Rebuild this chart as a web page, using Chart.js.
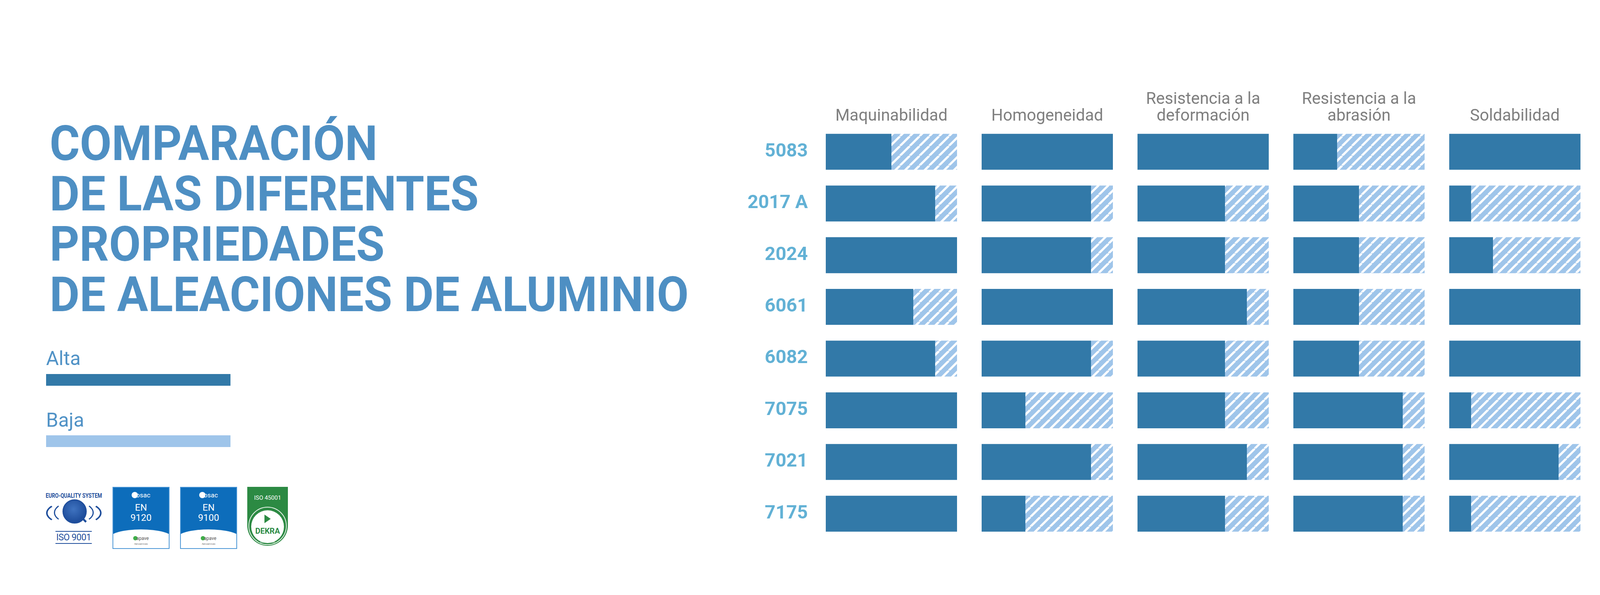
<!DOCTYPE html>
<html lang="es">
<head>
<meta charset="utf-8">
<title>Comparación de las diferentes propriedades de aleaciones de aluminio</title>
<script src="https://cdn.jsdelivr.net/npm/chart.js@4.4.1/dist/chart.umd.min.js"></script>
<style>
  html, body { margin: 0; padding: 0; background: #fff; }
  body { width: 4961px; height: 1524px; position: relative; overflow: hidden; font-family: Roboto, "Liberation Sans", sans-serif; }
  .abs { position: absolute; }
  .titulo { position: absolute; left: 127px; font-weight: 700; font-size: 125px; line-height: 125px; color: #4e8fc3; white-space: nowrap; transform-origin: 0 0; }
  .ley-texto { position: absolute; left: 118px; font-size: 50px; line-height: 50px; color: #5092c6; }
  .ley-barra { position: absolute; left: 118px; width: 472px; }
  .grafica { position: absolute; top: 224px; height: 1158px; }
  .osac { position: absolute; top: 1247px; width: 142px; height: 155px; background: #0d6dbb; border: 2px solid #4d97d6; overflow: hidden; color: #fff; text-align: center; }
  .osac .marca { position: absolute; top: 9px; left: 0; right: 0; font-size: 17px; line-height: 20px; }
  .osac .marca span { display: inline-block; width: 16px; height: 16px; border-radius: 50%; background: #fff; vertical-align: -2px; margin-right: -5px; }
  .osac .en { position: absolute; top: 38px; left: 0; right: 0; font-size: 24px; line-height: 26px; }
  .osac .blanco { position: absolute; left: -10px; right: -10px; bottom: 0; height: 48px; background: #fff; border-radius: 50% 50% 0 0 / 22px 22px 0 0; }
  .osac .apave { position: absolute; bottom: 18px; left: 0; right: 0; font-size: 12px; color: #555; }
  .osac .apave span { display: inline-block; width: 11px; height: 11px; border-radius: 50%; background: #3fae49; vertical-align: -1px; margin-right: -3px; }
  .osac .aero { position: absolute; bottom: 8px; left: 0; right: 0; font-size: 6px; color: #666; }
</style>
</head>
<body>

<div class="titulo" style="top:305px">COMPARACIÓN</div>
<div class="titulo" style="top:434px">DE LAS DIFERENTES</div>
<div class="titulo" style="top:563px">PROPRIEDADES</div>
<div class="titulo" style="top:692px">DE ALEACIONES DE ALUMINIO</div>

<div id="leyenda"></div>

<!-- sellos de certificacion -->
<div class="abs" id="eqs" style="left:117px;top:1259px;font:700 17px Roboto;color:#1f4e9c;white-space:nowrap;transform-origin:0 0">EURO-QUALITY SYSTEM</div>
<div class="abs" style="left:118px;top:1282px;width:134px;height:56px;border:4px solid;border-color:transparent #1f4e9c;border-radius:50%"></div>
<div class="abs" style="left:138px;top:1284px;width:96px;height:52px;border:3px solid;border-color:transparent #1f4e9c;border-radius:50%"></div>
<div class="abs" style="left:160px;top:1279px;width:56px;height:56px;border:3px solid #1f4e9c;border-radius:50%;background:radial-gradient(circle at 45% 40%, #3f73c0 0%, #1f4e9c 70%)"></div>
<div class="abs" style="left:205px;top:1328px;width:18px;height:5px;background:#1f4e9c;transform:rotate(45deg)"></div>
<div class="abs" style="left:142px;top:1360px;width:93px;border-top:2px solid #1f4e9c;border-bottom:2px solid #1f4e9c;font:400 23px Roboto;line-height:29px;color:#1f4e9c;text-align:center;white-space:nowrap;letter-spacing:-0.5px">ISO 9001</div>

<div class="osac" style="left:288px">
  <div class="marca"><span></span>osac</div>
  <div class="en">EN<br>9120</div>
  <div class="blanco"></div>
  <div class="apave"><span></span>apave</div>
  <div class="aero">Aeroservices</div>
</div>
<div class="osac" style="left:461px">
  <div class="marca"><span></span>osac</div>
  <div class="en">EN<br>9100</div>
  <div class="blanco"></div>
  <div class="apave"><span></span>apave</div>
  <div class="aero">Aeroservices</div>
</div>

<div class="abs" style="left:633px;top:1247px;width:104px;height:151px;background:#2c8a43;border-radius:0 0 52px 52px"></div>
<div class="abs" style="left:633px;top:1266px;width:104px;text-align:center;font:400 15px Roboto;color:#fff">ISO 45001</div>
<div class="abs" style="left:636px;top:1298px;width:94px;height:94px;border:2px solid #e6f2e8;border-radius:50%"></div>
<div class="abs" style="left:643px;top:1307px;width:84px;height:84px;background:#fff;border-radius:50%"></div>
<div class="abs" style="left:677px;top:1318px;width:0;height:0;border-top:11px solid transparent;border-bottom:11px solid transparent;border-left:16px solid #2c8a43"></div>
<div class="abs" style="left:633px;top:1348px;width:104px;text-align:center;font:700 20px Roboto;color:#2c8a43">DEKRA</div>
<div class="abs" style="left:633px;top:1384px;width:104px;text-align:center;font:400 7px Roboto;color:#fff">Certification</div>

<script>
// aleaciones (filas) y propiedades (columnas)
const aleaciones = ["5083", "2017 A", "2024", "6061", "6082", "7075", "7021", "7175"];
const propiedades = [
    ["Maquinabilidad"],
    ["Homogeneidad"],
    ["Resistencia a la", "deformación"],
    ["Resistencia a la", "abrasión"],
    ["Soldabilidad"],
    ["Aptitud para", "el pulido"],
    ["Resistencia", "a la corrosión"]
];

// nivel "Alta" de cada aleacion, sobre 6
const maquinabilidad = [3, 5, 6, 4, 5, 6, 6, 6];
const homogeneidad   = [6, 5, 5, 6, 5, 2, 5, 2];
const deformacion    = [6, 4, 4, 5, 4, 4, 5, 4];
const abrasion       = [2, 3, 3, 3, 3, 5, 5, 5];
const soldabilidad   = [6, 1, 2, 6, 6, 1, 5, 1];
const pulido         = [2, 6, 6, 3, 5, 5, 5, 5];
const corrosion      = [6, 1, 2, 5, 6, 2, 5, 2];

const nivelMax = 6;
const leyenda = ["Alta", "Baja"];

const valores = [maquinabilidad, homogeneidad, deformacion, abrasion, soldabilidad, pulido, corrosion];

const azulOscuro = "#3279a8";
const azulClaro = "#9fc5ea";

// titulo: ajustar el ancho al del original
const lineas = document.querySelectorAll(".titulo");
const escala = 1636 / lineas[3].getBoundingClientRect().width;
lineas.forEach((l) => l.style.transform = `scaleX(${escala})`);

const eqs = document.getElementById("eqs");
eqs.style.transform = `scaleX(${144 / eqs.getBoundingClientRect().width})`;

// leyenda
const cajaLeyenda = document.getElementById("leyenda");
const coloresLeyenda = [azulOscuro, azulClaro];
const topTexto = [893, 1051];
const topBarra = [958, 1115];
leyenda.forEach((txt, i) => {
    const t = document.createElement("div");
    t.className = "ley-texto";
    t.style.top = topTexto[i] + "px";
    t.textContent = txt;
    const b = document.createElement("div");
    b.className = "ley-barra";
    b.style.top = topBarra[i] + "px";
    b.style.height = "30px";
    b.style.background = coloresLeyenda[i];
    cajaLeyenda.appendChild(t);
    cajaLeyenda.appendChild(b);
});

function rayado() {
    const p = 25;
    const c = document.createElement("canvas");
    c.width = p;
    c.height = p;
    const ctx = c.getContext("2d");
    ctx.fillStyle = azulClaro;
    ctx.fillRect(0, 0, p, p);
    ctx.strokeStyle = "#ffffff";
    ctx.lineWidth = 5.5;
    for (let k = -1; k <= 1; k++) {
        ctx.beginPath();
        ctx.moveTo(k * p, p);
        ctx.lineTo(k * p + p, 0);
        ctx.stroke();
    }
    return ctx.createPattern(c, "repeat");
}

const patron = rayado();

propiedades.forEach((prop, i) => {
    const primera = i === 0;
    const anchoEje = primera ? 260 : 0;
    const caja = document.createElement("div");
    caja.className = "grafica";
    caja.style.left = (2114 + 399 * i - anchoEje) + "px";
    caja.style.width = (336 + anchoEje) + "px";
    const canvas = document.createElement("canvas");
    caja.appendChild(canvas);
    document.body.appendChild(caja);

    const alta = valores[i];
    const baja = alta.map((v) => nivelMax - v);

    const ejeY = {
        stacked: true,
        display: primera,
        grid: { display: false, drawTicks: false, tickLength: 0 },
        border: { display: false },
        ticks: {
            color: "#62b1d5",
            font: { family: "Roboto", size: 48, weight: "bold" },
            padding: 46
        }
    };
    if (primera) {
        // ancho fijo del eje y sin relleno vertical extra
        ejeY.afterFit = (scale) => {
            scale.width = anchoEje;
            scale.paddingTop = 0;
            scale.paddingBottom = 0;
        };
    }

    new Chart(canvas, {
        type: "bar",
        data: {
            labels: aleaciones,
            datasets: [
                { label: leyenda[0], data: alta, backgroundColor: azulOscuro, borderWidth: 0 },
                { label: leyenda[1], data: baja, backgroundColor: patron, borderWidth: 0 }
            ]
        },
        options: {
            indexAxis: "y",
            responsive: true,
            maintainAspectRatio: false,
            animation: false,
            layout: { padding: 0 },
            datasets: { bar: { barPercentage: 0.695, categoryPercentage: 1 } },
            plugins: {
                legend: { display: false },
                tooltip: { enabled: false },
                title: {
                    display: true,
                    fullSize: false,
                    text: prop.length === 1 ? ["", prop[0]] : prop,
                    color: "#7f7f7f",
                    font: { family: "Roboto", size: 42, weight: "normal", lineHeight: 1.03 },
                    padding: { top: 10, bottom: 2 }
                }
            },
            scales: {
                x: { stacked: true, min: 0, max: nivelMax, display: false },
                y: ejeY
            }
        }
    });
});
</script>
</body>
</html>
